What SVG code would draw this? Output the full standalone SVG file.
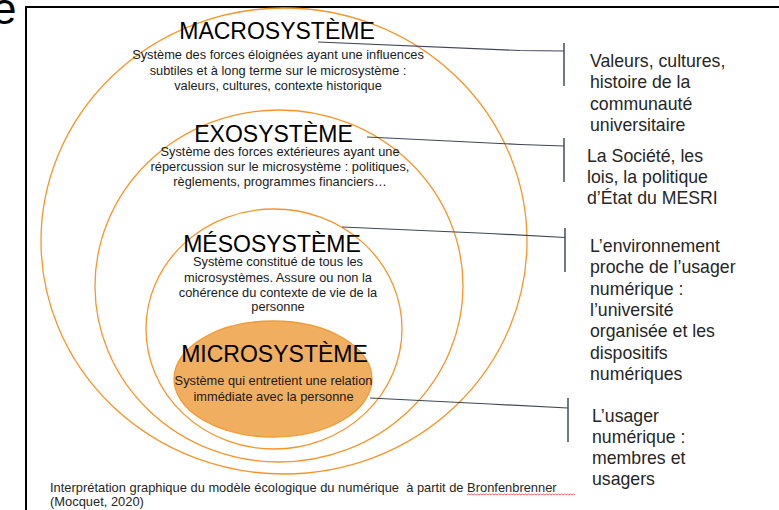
<svg xmlns="http://www.w3.org/2000/svg" width="779" height="510" viewBox="0 0 779 510">
<style>
.ring{fill:none;stroke:#F7952A;stroke-width:1.3}
.title{font-family:"Liberation Sans",Arial,sans-serif;font-size:23px;fill:#000;text-anchor:middle}
.desc{font-family:"Liberation Sans",Arial,sans-serif;font-size:12.8px;fill:#1a1a1a;text-anchor:middle}
.lbl{font-family:"Liberation Sans",Arial,sans-serif;font-size:17.7px;fill:#262626}
.foot{font-family:"Liberation Sans",Arial,sans-serif;font-size:12.9px;fill:#262626}
.conn{fill:none;stroke:#3f4654;stroke-width:1.2}
.tick{fill:none;stroke:#444c5a;stroke-width:1.5}
</style>
<rect width="779" height="510" fill="#fff"/>
<text x="-8" y="24" font-family="Liberation Sans, Arial, sans-serif" font-size="44" fill="#000">e</text>
<path d="M25 7H779M26 7V510" fill="none" stroke="#000" stroke-width="2"/>
<g id="macro">
<ellipse class="ring" cx="284" cy="241" rx="243" ry="233"/>
<text class="title" x="277" y="39">MACROSYSTÈME</text>
<text class="desc" x="278" y="58.5">Système des forces éloignées ayant une influences</text>
<text class="desc" x="278" y="74.5">subtiles et à long terme sur le microsystème :</text>
<text class="desc" x="278" y="90">valeurs, cultures, contexte historique</text>
</g>
<g id="exo">
<ellipse class="ring" cx="279" cy="286" rx="184" ry="176"/>
<text class="title" x="273.5" y="141.5">EXOSYSTÈME</text>
<text class="desc" x="280" y="156">Système des forces extérieures ayant une</text>
<text class="desc" x="280" y="171">répercussion sur le microsystème : politiques,</text>
<text class="desc" x="280" y="186">règlements, programmes financiers…</text>
</g>
<g id="meso">
<ellipse class="ring" cx="274" cy="329" rx="128" ry="120"/>
<text class="title" x="272" y="251.5">MÉSOSYSTÈME</text>
<text class="desc" x="278" y="266">Système constitué de tous les</text>
<text class="desc" x="278" y="281.5">microsystèmes. Assure ou non la</text>
<text class="desc" x="278" y="296.5">cohérence du contexte de vie de la</text>
<text class="desc" x="278" y="311">personne</text>
</g>
<g id="micro">
<ellipse cx="273" cy="379" rx="99" ry="58" fill="#F0AE60" stroke="#F39A34" stroke-width="1.3"/>
<text class="title" x="274.5" y="362">MICROSYSTÈME</text>
<text class="desc" x="273.5" y="385">Système qui entretient une relation</text>
<text class="desc" x="273.5" y="401">immédiate avec la personne</text>
</g>
<g id="connectors">
<polyline class="conn" points="318,42 520,50.5 564,51"/>
<line class="tick" x1="564" y1="43" x2="564" y2="86"/>
<polyline class="conn" points="367,137 520,144.5 564,146"/>
<line class="tick" x1="564" y1="138" x2="564" y2="182"/>
<polyline class="conn" points="342,227 490,233.5 565,237.5"/>
<line class="tick" x1="565" y1="228" x2="565" y2="272"/>
<polyline class="conn" points="370,398 490,404 568,408"/>
<line class="tick" x1="568" y1="398" x2="568" y2="442"/>
</g>
<g id="label-macro">
<text class="lbl" x="590" y="66.5">Valeurs, cultures,</text>
<text class="lbl" x="590" y="88">histoire de la</text>
<text class="lbl" x="590" y="109.5">communauté</text>
<text class="lbl" x="590" y="131">universitaire</text>
</g>
<g id="label-exo">
<text class="lbl" x="587" y="162">La Société, les</text>
<text class="lbl" x="587" y="183">lois, la politique</text>
<text class="lbl" x="587" y="204">d’État du MESRI</text>
</g>
<g id="label-meso">
<text class="lbl" x="590" y="252">L’environnement</text>
<text class="lbl" x="590" y="273.3">proche de l’usager</text>
<text class="lbl" x="590" y="294.6">numérique :</text>
<text class="lbl" x="590" y="315.9">l’université</text>
<text class="lbl" x="590" y="337.2">organisée et les</text>
<text class="lbl" x="590" y="358.5">dispositifs</text>
<text class="lbl" x="590" y="379.8">numériques</text>
</g>
<g id="label-micro">
<text class="lbl" x="592" y="422">L’usager</text>
<text class="lbl" x="592" y="443">numérique :</text>
<text class="lbl" x="592" y="464">membres et</text>
<text class="lbl" x="592" y="485">usagers</text>
</g>
<g id="footer">
<text class="foot" x="50" y="491.5" xml:space="preserve">Interprétation graphique du modèle écologique du numérique  à partit de Bronfenbrenner</text>
<text class="foot" x="50" y="505.5">(Mocquet, 2020)</text>
<path d="M467 495l1.5-1 1.5 1 1.5-1 1.5 1 1.5-1 1.5 1 1.5-1 1.5 1 1.5-1 1.5 1 1.5-1 1.5 1 1.5-1 1.5 1 1.5-1 1.5 1 1.5-1 1.5 1 1.5-1 1.5 1 1.5-1 1.5 1 1.5-1 1.5 1 1.5-1 1.5 1 1.5-1 1.5 1 1.5-1 1.5 1 1.5-1 1.5 1 1.5-1 1.5 1 1.5-1 1.5 1 1.5-1 1.5 1 1.5-1 1.5 1 1.5-1 1.5 1 1.5-1 1.5 1 1.5-1 1.5 1 1.5-1 1.5 1 1.5-1 1.5 1 1.5-1 1.5 1 1.5-1 1.5 1 1.5-1 1.5 1 1.5-1 1.5 1 1.5-1 1.5 1 1.5-1 1.5 1 1.5-1 1.5 1 1.5-1 1.5 1 1.5-1 1.5 1 1.5-1 1.5 1 1.5-1 1.5 1" fill="none" stroke="#e02424" stroke-width="0.7"/>
</g>
</svg>
